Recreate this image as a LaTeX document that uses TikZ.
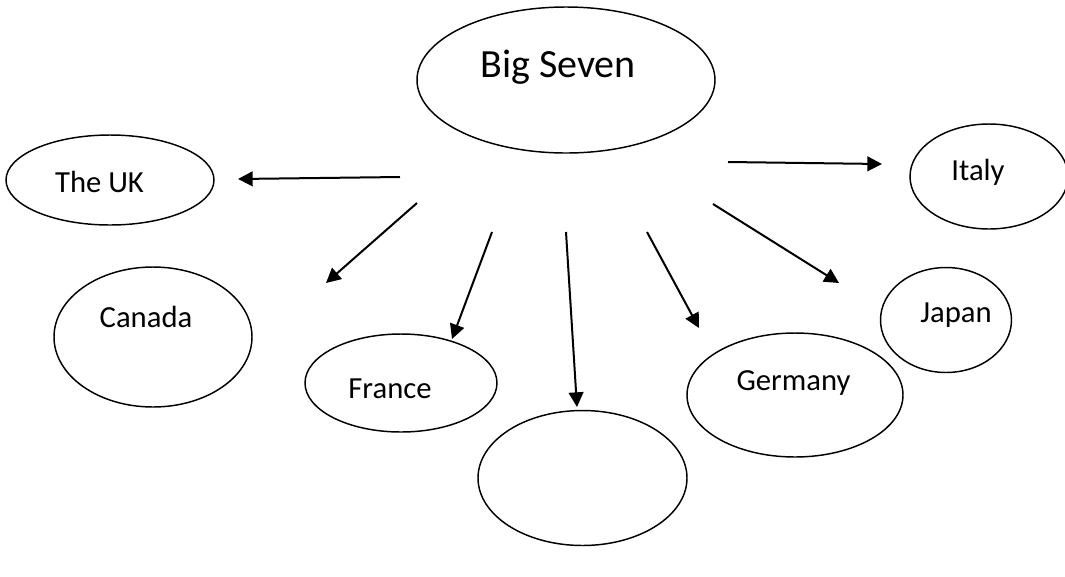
\documentclass[tikz,border=0pt]{standalone}
\usepackage{fontspec}
\setmainfont{Carlito}
\usetikzlibrary{shapes.geometric,arrows.meta}
\begin{document}
\begin{tikzpicture}[x=0.75pt,y=-0.75pt,
  oval/.style={draw, line width=1.1pt, ellipse, inner sep=0pt},
  lbl/.style={anchor=base, inner sep=0pt, font=\fontsize{23}{27}\selectfont},
  arr/.style={line width=1.5pt, -{Triangle[length=11pt,width=11pt]}}]
\useasboundingbox (0,0) rectangle (1065,576);
\clip (0,0) rectangle (1065,576);
% ellipses (sizes in pt = px * 0.75)
\node[oval, minimum width=223.5pt, minimum height=109.5pt] (big) at (566,80) {};
\node[oval, minimum width=156pt, minimum height=67.5pt] (uk) at (110,180) {};
\node[oval, minimum width=118.5pt, minimum height=78.75pt] (italy) at (989,176.5) {};
\node[oval, minimum width=148.5pt, minimum height=105pt] (canada) at (153,337) {};
\node[oval, minimum width=144pt, minimum height=73.5pt] (france) at (401,383) {};
\node[oval, minimum width=156.75pt, minimum height=101.25pt] (empty) at (582.5,478) {};
\node[oval, minimum width=162pt, minimum height=93pt] (germany) at (795,395) {};
\node[oval, minimum width=98.25pt, minimum height=78.75pt] (japan) at (946,320) {};
% labels
\node[lbl, font=\fontsize{30}{36}\selectfont] (bigt) at (558,77) {Big Seven};
\node[lbl] (ukt) at (99.5,192) {The UK};
\node[lbl] (italyt) at (978,180) {Italy};
\node[lbl] (canadat) at (146,327) {Canada};
\node[lbl] (francet) at (390,398) {France};
\node[lbl] (germanyt) at (793.5,390) {Germany};
\node[lbl] (japant) at (956,322) {Japan};
% arrow ends
\coordinate (s1) at (400,177); \coordinate (e1) at (238,179);
\coordinate (s2) at (728,162); \coordinate (e2) at (882,164);
\coordinate (s3) at (417,203); \coordinate (e3) at (326,283);
\coordinate (s4) at (492,232); \coordinate (e4) at (452,339);
\coordinate (s5) at (566,232); \coordinate (e5) at (577,407);
\coordinate (s6) at (647,232); \coordinate (e6) at (699,328);
\coordinate (s7) at (713,204); \coordinate (e7) at (839,283);
\foreach \i in {1,...,7} \draw[arr] (s\i) -- (e\i);
\end{tikzpicture}
\end{document}
